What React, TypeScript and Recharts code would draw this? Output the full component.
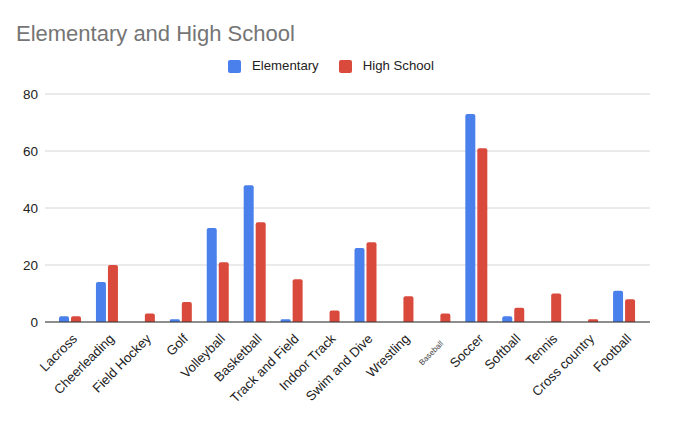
import React from 'react';
import { BarChart, Bar, XAxis, YAxis, CartesianGrid, Legend } from 'recharts';

const sports = [
  'Lacross', 'Cheerleading', 'Field Hockey', 'Golf', 'Volleyball', 'Basketball',
  'Track and Field', 'Indoor Track', 'Swim and Dive', 'Wrestling', 'Baseball',
  'Soccer', 'Softball', 'Tennis', 'Cross country', 'Football',
];
const elementary = [2, 14, 0, 1, 33, 48, 1, 0, 26, 0, 0, 73, 2, 0, 0, 11];
const highSchool = [2, 20, 3, 7, 21, 35, 15, 4, 28, 9, 3, 61, 5, 10, 1, 8];
const yTicks = [0, 20, 40, 60, 80];

const data = sports.map((s, i) => ({
  sport: s,
  Elementary: elementary[i],
  'High School': highSchool[i],
}));

const FONT = '"Liberation Sans", Arial, Helvetica, sans-serif';

const XTick = (props: any) => {
  const { x, y, payload } = props;
  const small = payload.value === 'Baseball';
  const tx = x + (small ? 4 : 7.5);
  const ty = y + (small ? 22 : 17.5);
  return (
    <text
      x={tx}
      y={ty}
      textAnchor="end"
      fontSize={small ? 8 : 13.2}
      fill={small ? '#444' : '#222'}
      fontFamily={FONT}
      transform={`rotate(-45, ${tx}, ${ty})`}
    >
      {payload.value}
    </text>
  );
};

const LegendContent = (props: any) => {
  const { payload } = props;
  return (
    <div style={{ display: 'flex', paddingLeft: 228, fontFamily: FONT, fontSize: 13.2, color: '#222', lineHeight: '14px' }}>
      {payload.map((p: any, i: number) => (
        <div key={i} style={{ display: 'flex', alignItems: 'center', marginRight: 20 }}>
          <span style={{ width: 13, height: 13, background: p.color, borderRadius: 2, display: 'inline-block', marginRight: 11 }} />
          <span>{p.value}</span>
        </div>
      ))}
    </div>
  );
};

export default function App() {
  return (
    <div style={{ position: 'absolute', left: 0, top: 0, width: 680, height: 424, background: '#fff' }}>
      <svg width={680} height={50} style={{ position: 'absolute', left: 0, top: 0 }}>
        <text x={16} y={41} fontSize={22} fill="#757575" fontFamily={FONT}>
          Elementary and High School
        </text>
      </svg>
      <BarChart
        width={680}
        height={424}
        data={data}
        margin={{ top: 94, right: 30, bottom: 0, left: 0 }}
        barSize={10}
        barGap={2}
      >
        <CartesianGrid vertical={false} stroke="#d6d6d6" />
        <XAxis
          dataKey="sport"
          interval={0}
          height={102}
          tickLine={false}
          tickSize={0}
          tickMargin={0}
          axisLine={{ stroke: '#333', strokeWidth: 1.2 }}
          padding={{ left: 7, right: 7 }}
          tick={<XTick />}
        />
        <YAxis
          width={45}
          domain={[0, 80]}
          ticks={yTicks}
          axisLine={false}
          tickLine={false}
          tickSize={5}
          tickMargin={2}
          tick={{ fontSize: 13.5, fill: '#222', fontFamily: FONT }}
        />
        <Legend
          verticalAlign="middle"
          align="center"
          layout="horizontal"
          wrapperStyle={{ top: 59, left: 0, width: 680 }}
          content={<LegendContent />}
        />
        <Bar dataKey="Elementary" fill="#4a80ec" radius={[2, 2, 0, 0]} isAnimationActive={false} />
        <Bar dataKey="High School" fill="#d94a3d" radius={[2, 2, 0, 0]} isAnimationActive={false} />
      </BarChart>
    </div>
  );
}
